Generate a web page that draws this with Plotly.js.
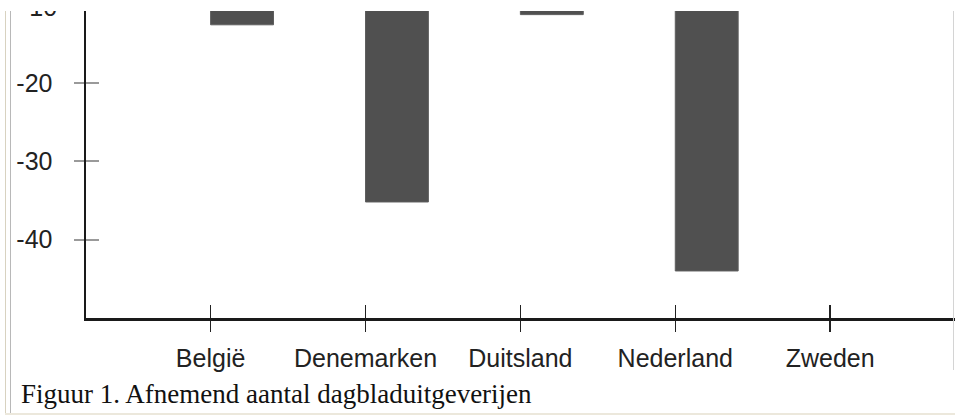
<!DOCTYPE html>
<html>
<head>
<meta charset="utf-8">
<script src="https://cdn.plot.ly/plotly-3.0.1.min.js"></script>
<style>
  html, body { margin: 0; padding: 0; background: #ffffff; }
  #wrap { position: relative; width: 955px; height: 416px; overflow: hidden; background: #fff; }
  #chart { position: absolute; left: 0; top: 0; width: 955px; height: 416px; }
  .cover { position: absolute; left: 0; top: 0; width: 955px; height: 11px; background: #ffffff; }
  .frameL1 { position: absolute; left: 5px; top: 11px; width: 1px; height: 403px; background: #d8d2c0; }
  .frameL2 { position: absolute; left: 10px; top: 11px; width: 1px; height: 403px; background: #b8b8b8; }
  .frameR { position: absolute; left: 953px; top: 11px; width: 1px; height: 359px; background: #d4d4d4; }
  .frameB { position: absolute; left: 5px; top: 413px; width: 950px; height: 2px; background: #ece8dc; }
</style>
</head>
<body>
<div id="wrap">
  <div id="chart"></div>
  <div class="cover"></div>
  <div class="frameL1"></div>
  <div class="frameL2"></div>
  <div class="frameR"></div>
  <div class="frameB"></div>
</div>
<script>
// Data
var categories = ["België", "Denemarken", "Duitsland", "Nederland", "Zweden"];
var changes = [-12.6, -35.2, -11.3, -44.0, 0];
var yTickValues = [-40, -30, -20, -10];
var yTickLabels = ["-40", "-30", "-20", "-10"];
var captionText = "Figuur 1. Afnemend aantal dagbladuitgeverijen";

var positions = categories.map(function (c, i) { return i; });

var font = { family: "Liberation Sans, Arial, Helvetica, sans-serif", size: 25, color: "#222222" };

var bars = {
  type: "bar",
  x: positions,
  y: changes,
  offset: 0,
  width: 0.406,
  marker: { color: "#505050", line: { color: "#5e5e5e", width: 1 } },
  hoverinfo: "skip",
  cliponaxis: true
};

// invisible helper trace so the overlay axes (crossing ticks) are drawn
var helper = {
  type: "scatter",
  mode: "none",
  x: positions,
  y: changes,
  xaxis: "x2",
  yaxis: "y2",
  hoverinfo: "skip",
  showlegend: false
};

var layout = {
  width: 955,
  height: 416,
  margin: { l: 86, r: 0, t: 11, b: 98 },
  paper_bgcolor: "rgba(0,0,0,0)",
  plot_bgcolor: "rgba(0,0,0,0)",
  showlegend: false,
  bargap: 0,
  xaxis: {
    range: [-0.8045, 4.806],
    tickvals: positions,
    ticktext: categories,
    ticks: "outside",
    ticklen: 11,
    tickwidth: 1.5,
    tickcolor: "#222222",
    ticklabelstandoff: 5,
    showline: true,
    linecolor: "#1a1a1a",
    linewidth: 2.5,
    showgrid: false,
    zeroline: false,
    tickfont: font,
    fixedrange: true
  },
  xaxis2: {
    overlaying: "x",
    anchor: "y2",
    range: [-0.8045, 4.806],
    tickvals: positions,
    ticks: "inside",
    ticklen: 13,
    tickwidth: 1.5,
    tickcolor: "#222222",
    showticklabels: false,
    showline: false,
    showgrid: false,
    zeroline: false,
    fixedrange: true
  },
  yaxis: {
    range: [-50, -10.84],
    tickvals: yTickValues,
    ticktext: yTickLabels,
    ticks: "outside",
    ticklen: 10,
    tickwidth: 2,
    tickcolor: "#9a9a9a",
    ticklabelstandoff: 16,
    showline: true,
    linecolor: "#1a1a1a",
    linewidth: 2.5,
    showgrid: false,
    zeroline: false,
    tickfont: font,
    fixedrange: true
  },
  yaxis2: {
    overlaying: "y",
    anchor: "x2",
    range: [-50, -10.84],
    tickvals: yTickValues,
    ticks: "inside",
    ticklen: 13,
    tickwidth: 2,
    tickcolor: "#9a9a9a",
    showticklabels: false,
    showline: false,
    showgrid: false,
    zeroline: false,
    fixedrange: true
  },
  annotations: [
    {
      xref: "paper", yref: "paper",
      x: 0, y: 1,
      xanchor: "right", yanchor: "middle",
      xshift: -27, yshift: 4,
      text: yTickLabels[3],
      showarrow: false,
      font: font
    },
    {
      xref: "paper", yref: "paper",
      x: 0, y: 0,
      xanchor: "left", yanchor: "bottom",
      xshift: -67, yshift: -93,
      text: captionText,
      showarrow: false,
      font: { family: "Liberation Serif, Times New Roman, serif", size: 27, color: "#111111" }
    }
  ]
};

Plotly.newPlot("chart", [bars, helper], layout, { displayModeBar: false, staticPlot: true });
</script>
</body>
</html>
